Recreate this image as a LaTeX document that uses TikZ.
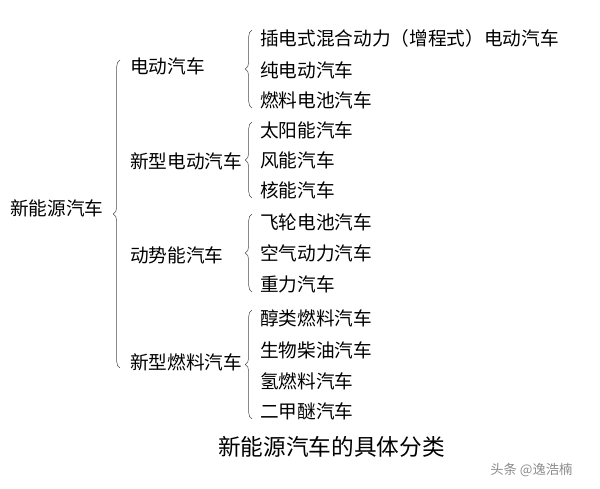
\documentclass[tikz,border=0pt]{standalone}
\usepackage{fontspec}
\setmainfont{Noto Sans CJK SC}
\usetikzlibrary{positioning,decorations.pathreplacing}
\tikzset{
  txt/.style={anchor=west, inner sep=0pt, font=\fontsize{14}{14}\selectfont},
  brc/.style={decorate, decoration={brace, amplitude=5pt, mirror}, draw=black!70, thin}
}
\begin{document}
\begin{tikzpicture}[x=0.75pt, y=-0.75pt]
\useasboundingbox (0,0) rectangle (600,489);
% root
\node[txt] (root) at (10,208) {新能源汽车};
% first level
\node[txt] (ev) at (130,66) {电动汽车};
\node[txt] (nev) at (130,161) {新型电动汽车};
\node[txt] (kin) at (130,255) {动势能汽车};
\node[txt] (nfu) at (130,362) {新型燃料汽车};
\draw[brc] (120,60) -- (120,368);
% leaves
\foreach \t/\y [count=\i] in {插电式混合动力（增程式）电动汽车/38, 纯电动汽车/70, 燃料电池汽车/100,
  太阳能汽车/130, 风能汽车/160, 核能汽车/190,
  飞轮电池汽车/222, 空气动力汽车/253, 重力汽车/284,
  醇类燃料汽车/318, 生物柴油汽车/350, 氢燃料汽车/381, 二甲醚汽车/411}
  \node[txt] (leaf\i) at (260,\y) {\t};
\draw[brc] (252,30) -- (252,108);
\draw[brc] (252,122) -- (252,198);
\draw[brc] (252,214) -- (252,292);
\draw[brc] (252,310) -- (252,419);
% caption
\node[txt, font=\fontsize{17}{17}\selectfont] (cap) at (218,447) {新能源汽车的具体分类};
\node[txt, font=\fontsize{10}{10}\selectfont, text=black!45] (wm) at (490,470) {头条 @逸浩楠};
\end{tikzpicture}
\end{document}
